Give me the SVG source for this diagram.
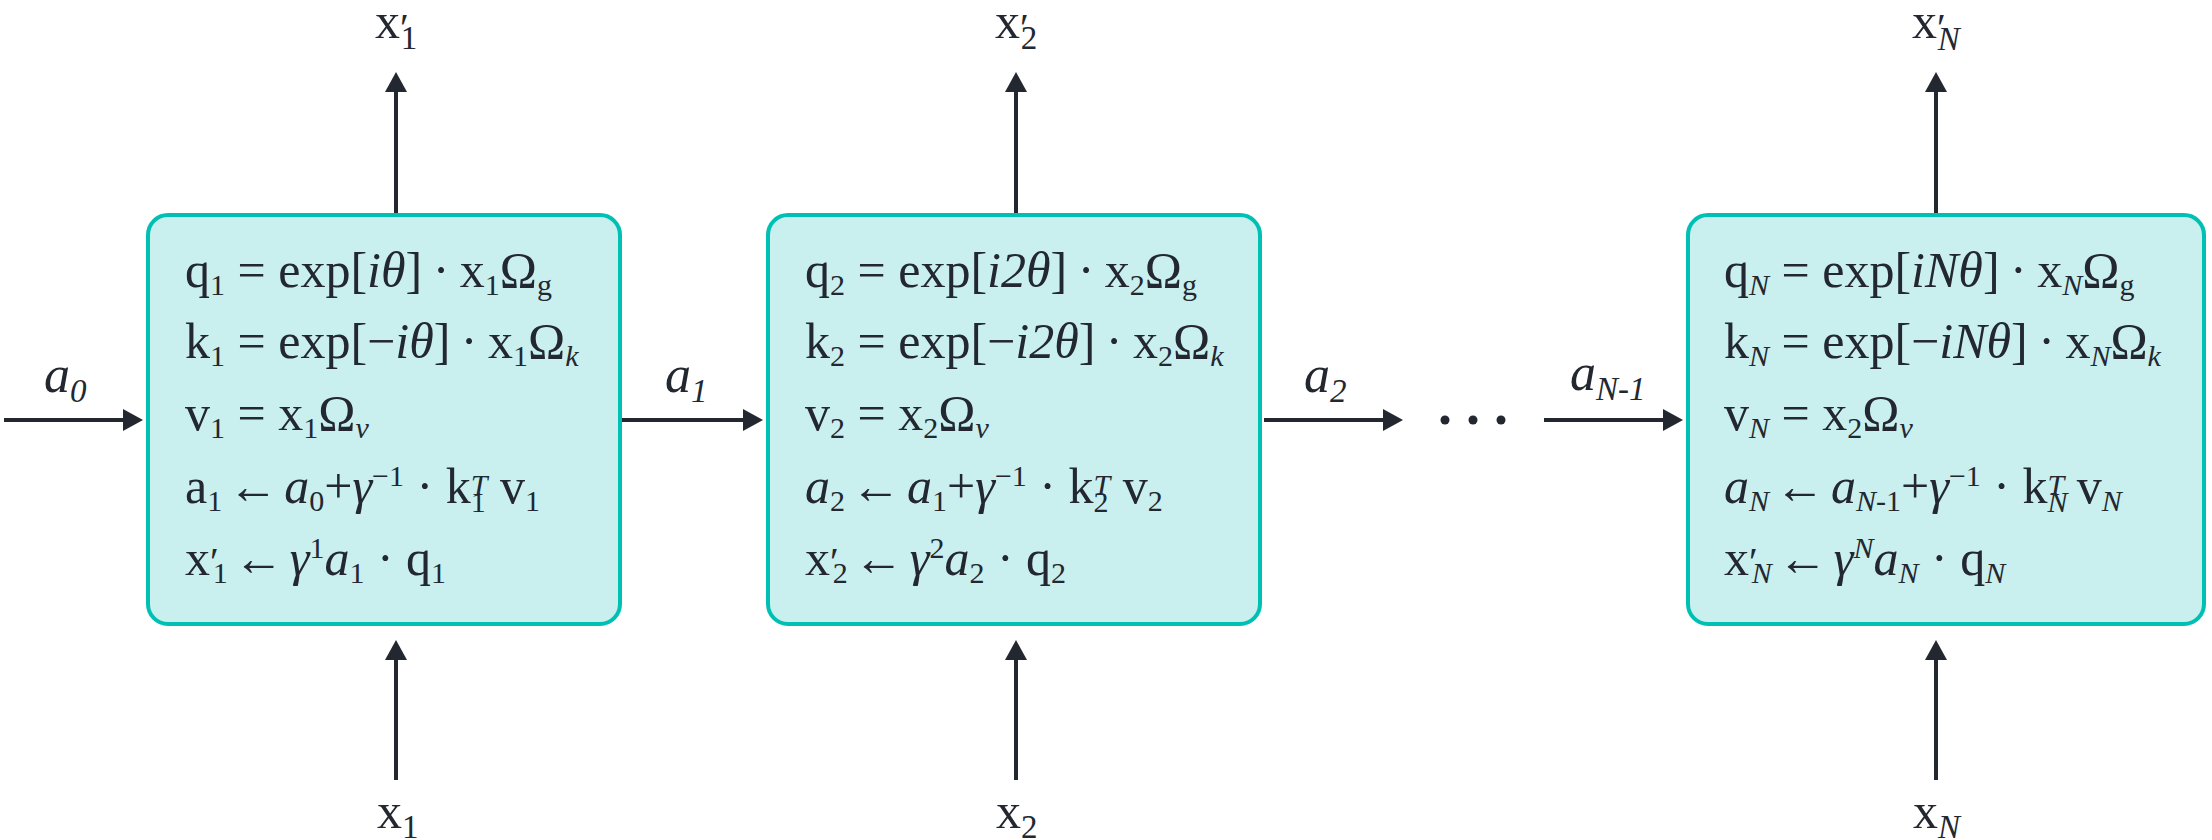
<svg xmlns="http://www.w3.org/2000/svg" width="2212" height="840" viewBox="0 0 2212 840">
<style>
.t{font-family:"Liberation Serif","Times New Roman",serif;font-size:50px;fill:#232730}
.i{font-style:italic}
.s{font-size:30px}
.ar{font-size:50px}
.p{font-size:40px}
.ls{font-size:33px}
.lb{font-size:52px}
.box{fill:#c9f0ee;stroke:#00bfb3;stroke-width:4}
.c{stroke:#232730;stroke-width:4;fill:none}
</style>
<defs>
<marker id="ah" markerUnits="userSpaceOnUse" viewBox="0 0 20 22" markerWidth="20" markerHeight="22" refX="10" refY="11" orient="auto">
<path d="M0,0 L20,11 L0,22 Z" fill="#232730"/>
</marker>
</defs>
<rect width="2212" height="840" fill="#ffffff"/>

<g id="connectors">
<line class="c" x1="396" y1="213" x2="396" y2="82" marker-end="url(#ah)"/>
<line class="c" x1="1016" y1="213" x2="1016" y2="82" marker-end="url(#ah)"/>
<line class="c" x1="1936" y1="213" x2="1936" y2="82" marker-end="url(#ah)"/>
<line class="c" x1="396" y1="780" x2="396" y2="650" marker-end="url(#ah)"/>
<line class="c" x1="1016" y1="780" x2="1016" y2="650" marker-end="url(#ah)"/>
<line class="c" x1="1936" y1="780" x2="1936" y2="650" marker-end="url(#ah)"/>
<line class="c" x1="4" y1="420" x2="133" y2="420" marker-end="url(#ah)"/>
<line class="c" x1="622" y1="420" x2="753" y2="420" marker-end="url(#ah)"/>
<line class="c" x1="1264" y1="420" x2="1393" y2="420" marker-end="url(#ah)"/>
<line class="c" x1="1544" y1="420" x2="1673" y2="420" marker-end="url(#ah)"/>
<circle cx="1445" cy="420" r="4.5" fill="#232730"/>
<circle cx="1473" cy="420" r="4.5" fill="#232730"/>
<circle cx="1501" cy="420" r="4.5" fill="#232730"/>
<text class="t i lb" x="44" y="392">a<tspan class="ls" dy="10">0</tspan></text>
<text class="t i lb" x="665" y="392">a<tspan class="ls" dy="10">1</tspan></text>
<text class="t i lb" x="1304" y="392">a<tspan class="ls" dy="10">2</tspan></text>
<text class="t i lb" x="1570" y="390">a<tspan class="ls" dy="10">N-1</tspan></text>
</g>

<g id="node1">
<rect class="box" x="148" y="215" width="472" height="409" rx="20"/>
<text class="t" x="185" y="287">q<tspan class="s" dy="8">1</tspan><tspan dy="-8"> = exp[</tspan><tspan class="i">iθ</tspan>]<tspan dx="-2"> · </tspan><tspan dx="-2">x</tspan><tspan class="s" dy="8">1</tspan><tspan dy="-8">Ω</tspan><tspan class="s" dy="8">g</tspan></text>
<text class="t" x="185" y="358">k<tspan class="s" dy="8">1</tspan><tspan dy="-8"> = exp[−</tspan><tspan class="i">iθ</tspan>]<tspan dx="-2"> · </tspan><tspan dx="-2">x</tspan><tspan class="s" dy="8">1</tspan><tspan dy="-8">Ω</tspan><tspan class="s i" dy="8">k</tspan></text>
<text class="t" x="185" y="430">v<tspan class="s" dy="8">1</tspan><tspan dy="-8"> = x</tspan><tspan class="s" dy="8">1</tspan><tspan dy="-8">Ω</tspan><tspan class="s i" dy="8">v</tspan></text>
<text class="t" x="185" y="503">a<tspan class="s" dy="8">1</tspan><tspan class="ar" dx="6" dy="-8">←</tspan><tspan class="i" dx="6">a</tspan><tspan class="s" dy="8">0</tspan><tspan dy="-8">+</tspan><tspan class="i">γ</tspan><tspan class="s" dy="-17">−1</tspan><tspan dy="17"> · k</tspan><tspan class="s" dy="9">1</tspan><tspan class="s i" dx="-15" dy="-17">T</tspan><tspan dy="8"> v</tspan><tspan class="s" dy="8">1</tspan></text>
<text class="t" x="185" y="575">x<tspan class="p">′</tspan><tspan class="s" dx="-6" dy="8">1</tspan><tspan class="ar" dx="6" dy="-8">←</tspan><tspan class="i" dx="6">γ</tspan><tspan class="s" dy="-17">1</tspan><tspan class="i" dy="17">a</tspan><tspan class="s" dy="8">1</tspan><tspan dy="-8"> · q</tspan><tspan class="s" dy="8">1</tspan></text>
</g>

<g id="node2">
<rect class="box" x="768" y="215" width="492" height="409" rx="20"/>
<text class="t" x="805" y="287">q<tspan class="s" dy="8">2</tspan><tspan dy="-8"> = exp[</tspan><tspan class="i">i2θ</tspan>]<tspan dx="-2"> · </tspan><tspan dx="-2">x</tspan><tspan class="s" dy="8">2</tspan><tspan dy="-8">Ω</tspan><tspan class="s" dy="8">g</tspan></text>
<text class="t" x="805" y="358">k<tspan class="s" dy="8">2</tspan><tspan dy="-8"> = exp[−</tspan><tspan class="i">i2θ</tspan>]<tspan dx="-2"> · </tspan><tspan dx="-2">x</tspan><tspan class="s" dy="8">2</tspan><tspan dy="-8">Ω</tspan><tspan class="s i" dy="8">k</tspan></text>
<text class="t" x="805" y="430">v<tspan class="s" dy="8">2</tspan><tspan dy="-8"> = x</tspan><tspan class="s" dy="8">2</tspan><tspan dy="-8">Ω</tspan><tspan class="s i" dy="8">v</tspan></text>
<text class="t" x="805" y="503"><tspan class="i">a</tspan><tspan class="s" dy="8">2</tspan><tspan class="ar" dx="6" dy="-8">←</tspan><tspan class="i" dx="6">a</tspan><tspan class="s" dy="8">1</tspan><tspan dy="-8">+</tspan><tspan class="i">γ</tspan><tspan class="s" dy="-17">−1</tspan><tspan dy="17"> · k</tspan><tspan class="s" dy="9">2</tspan><tspan class="s i" dx="-15" dy="-17">T</tspan><tspan dy="8"> v</tspan><tspan class="s" dy="8">2</tspan></text>
<text class="t" x="805" y="575">x<tspan class="p">′</tspan><tspan class="s" dx="-6" dy="8">2</tspan><tspan class="ar" dx="6" dy="-8">←</tspan><tspan class="i" dx="6">γ</tspan><tspan class="s" dy="-17">2</tspan><tspan class="i" dy="17">a</tspan><tspan class="s" dy="8">2</tspan><tspan dy="-8"> · q</tspan><tspan class="s" dy="8">2</tspan></text>
</g>

<g id="node3">
<rect class="box" x="1688" y="215" width="516" height="409" rx="20"/>
<text class="t" x="1724" y="287">q<tspan class="s i" dy="8">N</tspan><tspan dy="-8"> = exp[</tspan><tspan class="i">iNθ</tspan>]<tspan dx="-2"> · </tspan><tspan dx="-2">x</tspan><tspan class="s i" dy="8">N</tspan><tspan dy="-8">Ω</tspan><tspan class="s" dy="8">g</tspan></text>
<text class="t" x="1724" y="358">k<tspan class="s i" dy="8">N</tspan><tspan dy="-8"> = exp[−</tspan><tspan class="i">iNθ</tspan>]<tspan dx="-2"> · </tspan><tspan dx="-2">x</tspan><tspan class="s i" dy="8">N</tspan><tspan dy="-8">Ω</tspan><tspan class="s i" dy="8">k</tspan></text>
<text class="t" x="1724" y="430">v<tspan class="s i" dy="8">N</tspan><tspan dy="-8"> = x</tspan><tspan class="s" dy="8">2</tspan><tspan dy="-8">Ω</tspan><tspan class="s i" dy="8">v</tspan></text>
<text class="t" x="1724" y="503"><tspan class="i">a</tspan><tspan class="s i" dy="8">N</tspan><tspan class="ar" dx="6" dy="-8">←</tspan><tspan class="i" dx="6">a</tspan><tspan class="s" dy="8"><tspan class="i">N</tspan>-1</tspan><tspan dy="-8">+</tspan><tspan class="i">γ</tspan><tspan class="s" dy="-17">−1</tspan><tspan dy="17"> · k</tspan><tspan class="s i" dy="9">N</tspan><tspan class="s i" dx="-20" dy="-17">T</tspan><tspan dy="8"> v</tspan><tspan class="s i" dy="8">N</tspan></text>
<text class="t" x="1724" y="575">x<tspan class="p">′</tspan><tspan class="s i" dx="-6" dy="8">N</tspan><tspan class="ar" dx="6" dy="-8">←</tspan><tspan class="i" dx="6">γ</tspan><tspan class="s i" dy="-17">N</tspan><tspan class="i" dy="17">a</tspan><tspan class="s i" dy="8">N</tspan><tspan dy="-8"> · q</tspan><tspan class="s i" dy="8">N</tspan></text>
</g>

<g id="out1"><text class="t" x="375" y="38">x<tspan class="p" dy="3">′</tspan><tspan class="ls" dx="-8" dy="8">1</tspan></text></g>
<g id="out2"><text class="t" x="995" y="38">x<tspan class="p" dy="3">′</tspan><tspan class="ls" dx="-8" dy="8">2</tspan></text></g>
<g id="outN"><text class="t" x="1912" y="38">x<tspan class="p" dy="3">′</tspan><tspan class="ls i" dx="-8" dy="9">N</tspan></text></g>
<g id="in1"><text class="t" x="377" y="828">x<tspan class="ls" dy="10">1</tspan></text></g>
<g id="in2"><text class="t" x="996" y="828">x<tspan class="ls" dy="10">2</tspan></text></g>
<g id="inN"><text class="t" x="1913" y="828">x<tspan class="ls i" dy="10">N</tspan></text></g>
</svg>
